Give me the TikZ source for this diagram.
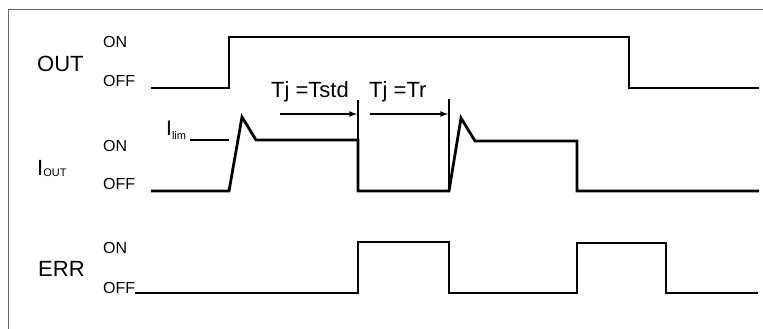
\documentclass[tikz,border=0pt]{standalone}
\usepackage{fontspec}
\setmainfont{Liberation Sans}
\usetikzlibrary{arrows,positioning}

\begin{document}
\begin{tikzpicture}[
  x=1pt, y=-1pt,
  sig/.style={line width=2.8pt, line join=miter},
  bar/.style={line width=1.8pt},
  signame/.style={anchor=base west, inner sep=0pt, font=\fontsize{22}{24}\selectfont},
  level/.style={anchor=base west, inner sep=0pt, font=\fontsize{16}{18}\selectfont},
  >=latex
]
  \useasboundingbox (0,0) rectangle (763,329);

  % Frame
  \draw[black!60, line width=1pt] (8,329) -- (8,10) -- (763,10);

  % Signal names
  \node[signame] (out) at (37,71) {OUT};
  \node[signame] (iout) at (37,175) {I\raisebox{-1.5pt}{\fontsize{11}{11}\selectfont OUT}};
  \node[signame] (err) at (38,276) {ERR};

  % Levels
  \node[level] (outon) at (103,48) {ON};
  \node[level] (outoff) at (103,87) {OFF};
  \node[level] (ioon) at (103,151) {ON};
  \node[level] (iooff) at (103,189) {OFF};
  \node[level] (erron) at (103,253) {ON};
  \node[level] (erroff) at (103,293) {OFF};

  % Current limit
  \node[signame, font=\fontsize{21}{22}\selectfont] (ilim) at (166,135) {I\raisebox{-5pt}{\fontsize{11}{11}\selectfont lim}};
  \coordinate (lima) at (190,140);
  \coordinate (limb) at (229,140);
  \draw[line width=1.5pt] (lima) -- (limb);

  % Temperatures
  \node[signame] (tstd) at (271,97) {Tj =Tstd};
  \node[signame, base right=20pt of tstd] (tr) {Tj =Tr};

  % Waveforms
  \draw[sig] (151,88) -- (229,88) -- (229,37) -- (629,37) -- (629,88) -- (759,88);
  \draw[sig] (151,191) -- (229,191) -- (242,117) -- (256,140) -- (358,140) -- (358,191)
    -- (449,191) -- (461,118) -- (475,141) -- (577,141) -- (577,191) -- (759,191);
  \draw[sig] (erroff.base east) -- (358,293) -- (358,242) -- (449,242) -- (449,293)
    -- (577,293) -- (577,243) -- (666,243) -- (666,293) -- (758,293);

  % Markers
  \coordinate (stdtop) at (358,100);
  \coordinate (stdbot) at (358,140);
  \coordinate (trtop) at (449,99);
  \coordinate (trbot) at (449,191);
  \draw[bar] (stdtop) -- (stdbot);
  \draw[bar] (trtop) -- (trbot);

  \coordinate (stda) at (280,114);
  \coordinate (stdb) at (357,114);
  \coordinate (tra) at (370,114);
  \coordinate (trb) at (448,114);
  \draw[->, line width=1.6pt] (stda) -- (stdb);
  \draw[->, line width=1.6pt] (tra) -- (trb);

\end{tikzpicture}
\end{document}
